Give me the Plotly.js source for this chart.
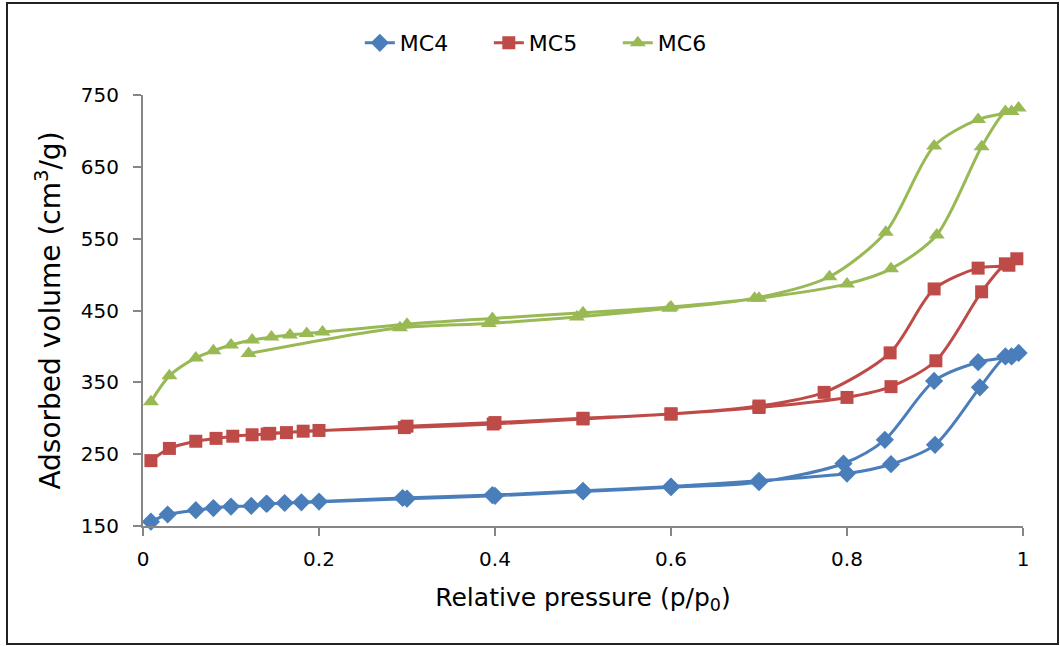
<!DOCTYPE html>
<html>
<head>
<meta charset="utf-8">
<script src="https://cdn.plot.ly/plotly-3.0.1.min.js"></script>
<style>
  html, body { margin: 0; padding: 0; background: #fff; }
  #wrap { position: relative; width: 1060px; height: 646px; }
  #chart { width: 1060px; height: 646px; }
  #frame { position: absolute; left: 6px; top: 2px; width: 1049px; height: 639px;
           border: 2px solid #222; pointer-events: none; }
</style>
</head>
<body>
<div id="wrap"><div id="chart"></div><div id="frame"></div></div>
<script>
// MC4: adsorption branch then desorption branch
const mc4AdsP = [0.009, 0.028, 0.06, 0.08, 0.10, 0.123, 0.141, 0.161, 0.18, 0.20, 0.295, 0.397, 0.50, 0.60, 0.70, 0.80, 0.85, 0.90, 0.951, 0.98, 0.995];
const mc4AdsV = [156, 166, 172, 175, 177, 178, 181, 182, 183, 184, 189, 193, 199, 205, 213, 223, 236, 263, 343, 386, 391];
const mc4DesP = [0.987, 0.949, 0.899, 0.843, 0.796, 0.70, 0.60, 0.50, 0.40, 0.30, 0.14];
const mc4DesV = [386, 378, 352, 270, 237, 211, 204, 198, 192, 188, 181];

// MC5
const mc5AdsP = [0.009, 0.03, 0.06, 0.083, 0.102, 0.124, 0.141, 0.163, 0.182, 0.20, 0.297, 0.398, 0.50, 0.60, 0.70, 0.80, 0.85, 0.901, 0.953, 0.98, 0.993];
const mc5AdsV = [241, 258, 268, 272, 275, 277, 278, 280, 282, 283, 287, 292, 299, 306, 315, 329, 344, 380, 476, 515, 522];
const mc5DesP = [0.984, 0.949, 0.899, 0.849, 0.774, 0.70, 0.60, 0.50, 0.40, 0.30, 0.144];
const mc5DesV = [513, 509, 480, 391, 336, 317, 306, 300, 294, 289, 279];

// MC6
const mc6AdsP = [0.009, 0.03, 0.06, 0.08, 0.10, 0.124, 0.146, 0.167, 0.186, 0.204, 0.30, 0.397, 0.50, 0.60, 0.70, 0.80, 0.85, 0.902, 0.953, 0.98, 0.995];
const mc6AdsV = [323, 359, 384, 394, 402, 409, 413, 416, 418, 420, 431, 439, 447, 455, 467, 487, 508, 555, 678, 727, 732];
const mc6DesP = [0.987, 0.949, 0.899, 0.844, 0.78, 0.695, 0.598, 0.493, 0.393, 0.292, 0.12];
const mc6DesV = [727, 716, 679, 559, 497, 467, 453, 441, 432, 426, 390];

const xTicks = [0, 0.2, 0.4, 0.6, 0.8, 1];
const xTickText = ['0', '0.2', '0.4', '0.6', '0.8', '1'];
const yTicks = [150, 250, 350, 450, 550, 650, 750];

const names = ['MC4', 'MC5', 'MC6'];
const colors = ['#4A7EBB', '#BE4B48', '#98B954'];
const symbols = ['diamond', 'square', 'triangle-up'];
const sizes = [14, 13, 14];
const series = [
  [mc4AdsP.concat(mc4DesP), mc4AdsV.concat(mc4DesV)],
  [mc5AdsP.concat(mc5DesP), mc5AdsV.concat(mc5DesV)],
  [mc6AdsP.concat(mc6DesP), mc6AdsV.concat(mc6DesV)]
];

const traces = series.map((s, i) => ({
  x: s[0], y: s[1], name: names[i], type: 'scatter', mode: 'lines+markers',
  line: { color: colors[i], width: 3, shape: 'spline', smoothing: 0.8 },
  marker: { color: colors[i], symbol: symbols[i], size: sizes[i] },
  cliponaxis: false
}));

const font = "DejaVu Sans, Verdana, sans-serif";
const layout = {
  width: 1060, height: 646,
  margin: { l: 143, r: 37, t: 95, b: 120 },
  paper_bgcolor: '#fff', plot_bgcolor: '#fff',
  font: { family: font, size: 20, color: '#000' },
  showlegend: true,
  legend: { orientation: 'h', x: 0.522, xanchor: 'center', xref: 'container',
            y: 1 - 43 / 646, yanchor: 'middle', yref: 'container', font: { size: 22, family: font },
            entrywidth: 84, entrywidthmode: 'pixels', tracegroupgap: 0, bgcolor: 'rgba(0,0,0,0)' },
  xaxis: {
    range: [0, 1], tickvals: xTicks, ticktext: xTickText,
    showgrid: false, zeroline: false, showline: true, linecolor: '#868686', linewidth: 2,
    ticks: 'outside', ticklen: 8, tickcolor: '#868686', tickwidth: 2,
    tickfont: { size: 20, family: font }, ticklabelstandoff: 6,
    title: { text: 'Relative pressure (p/p<sub>0</sub>)', font: { size: 25, family: font }, standoff: 18 }
  },
  yaxis: {
    range: [150, 750], tickvals: yTicks,
    showgrid: false, zeroline: false, showline: true, linecolor: '#868686', linewidth: 2,
    ticks: 'outside', ticklen: 8, tickcolor: '#868686', tickwidth: 2,
    tickfont: { size: 20, family: font }, ticklabelstandoff: 10,
    title: { text: 'Adsorbed volume (cm<sup>3</sup>/g)', font: { size: 28, family: font }, standoff: 12 }
  }
};

Plotly.newPlot('chart', traces, layout, { staticPlot: true, displayModeBar: false });
</script>
</body>
</html>
